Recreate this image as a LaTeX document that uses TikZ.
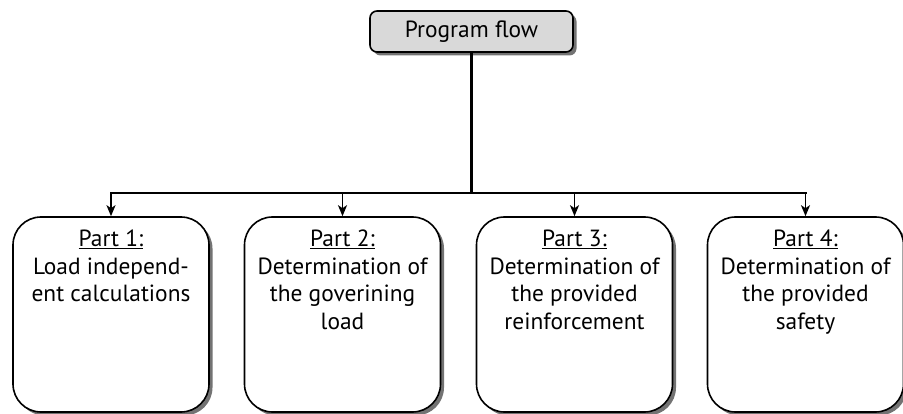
\documentclass[tikz,border=0pt]{standalone}
\usepackage{fontspec}
\setmainfont{PT Sans}
\usetikzlibrary{shadows,arrows.meta}
\begin{document}
\begin{tikzpicture}[x=1pt,y=-1pt,
  partbox/.style={draw, line width=1.6pt, rounded corners=28pt, fill=white,
    minimum width=196pt, minimum height=195pt, inner sep=0pt,
    drop shadow={shadow xshift=3.5pt, shadow yshift=-3.5pt, fill=black!55, opacity=1}},
  topbox/.style={draw, line width=1.6pt, rounded corners=7pt, fill=black!15,
    minimum width=203pt, minimum height=41pt, inner sep=0pt,
    font=\fontsize{23.4}{27.5}\selectfont,
    drop shadow={shadow xshift=3.5pt, shadow yshift=-3.5pt, fill=black!55, opacity=1}},
  txt/.style={align=center, inner sep=0pt, font=\fontsize{23.4}{27.5}\selectfont},
  bus/.style={line width=2.6pt},
  feed/.style={line width=1.8pt, -{Stealth[length=11pt,width=9pt,inset=3pt]}},
]
\useasboundingbox (0,0) rectangle (903,414);
\node[topbox] (top) at (471.5,31.5) {Program flow};
\node[partbox] (p1) at (111,314.5) {};
\node[partbox] (p2) at (342.5,314.5) {};
\node[partbox] (p3) at (574.5,314.5) {};
\node[partbox] (p4) at (805.5,314.5) {};
\node[txt, anchor=north] (t1) at ([yshift=-13.6pt]p1.north) {\underline{Part 1:}\\Load independ-\\ent calculations};
\node[txt, anchor=north] (t2) at ([yshift=-13.6pt]p2.north) {\underline{Part 2:}\\Determination of\\the goverining\\load};
\node[txt, anchor=north] (t3) at ([yshift=-13.6pt]p3.north) {\underline{Part 3:}\\Determination of\\the provided\\reinforcement};
\node[txt, anchor=north] (t4) at ([yshift=-13.6pt]p4.north) {\underline{Part 4:}\\Determination of\\the provided\\safety};
\coordinate (hub) at (top.south |- 0,193);
\draw[bus] (top.south) -- (hub);
\draw[bus, line cap=rect] (p1.north |- hub) -- (p4.north |- hub);
\foreach \p in {p1,p2,p3,p4} \draw[feed] (\p.north |- hub) -- (\p.north);
\end{tikzpicture}
\end{document}
